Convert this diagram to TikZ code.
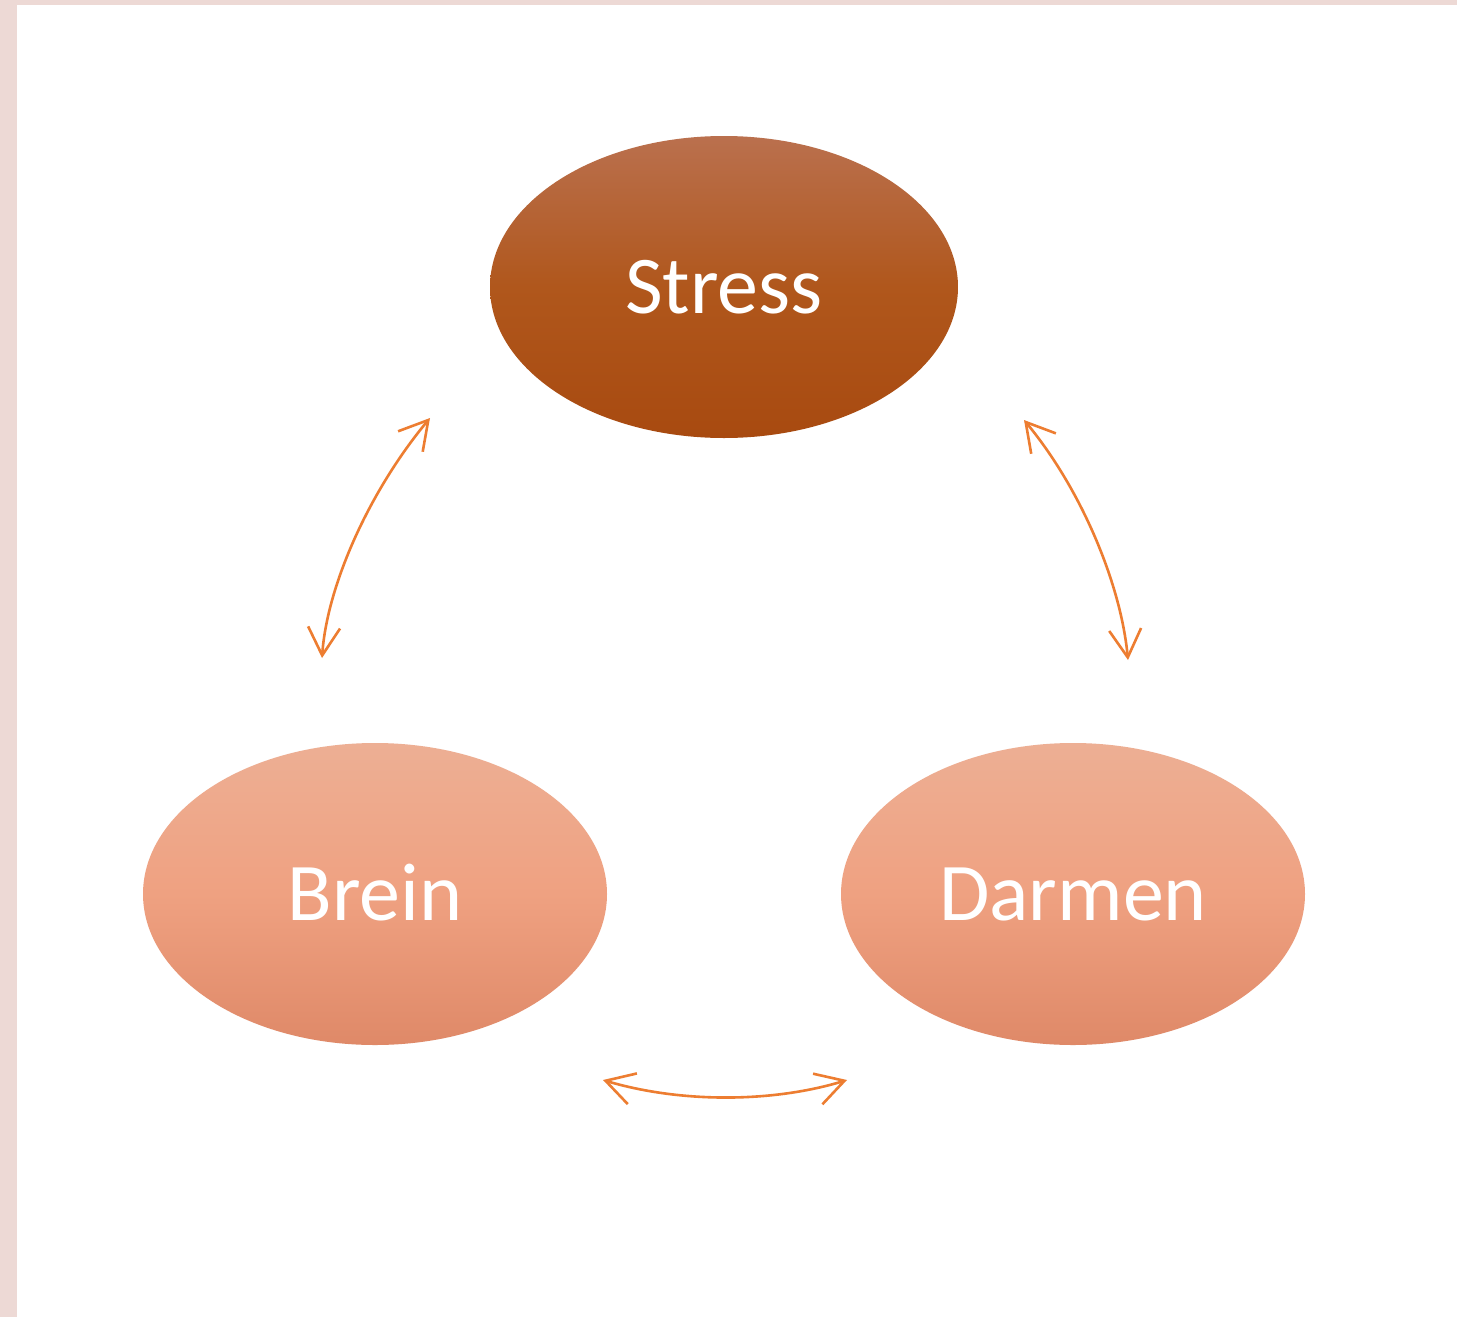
\documentclass[tikz,border=0pt]{standalone}
\usepackage{fontspec}
\setmainfont{Carlito}
\usetikzlibrary{shapes.geometric,arrows.meta}
\definecolor{pinkbg}{RGB}{237,217,213}
\definecolor{stresstop}{RGB}{186,112,78}
\definecolor{stressmid}{RGB}{176,87,28}
\definecolor{stressbot}{RGB}{168,74,16}
\definecolor{lighttop}{RGB}{237,175,148}
\definecolor{lightmid}{RGB}{239,161,129}
\definecolor{lightbot}{RGB}{223,137,104}
\definecolor{arroworange}{RGB}{237,125,49}
\tikzset{
  oval/.style={ellipse, draw=none, inner sep=0pt, minimum width=232pt, minimum height=151pt,
    text=white, font=\fontsize{41}{41}\selectfont, text height=26.4pt, text depth=0pt},
  darkoval/.style={oval, top color=stresstop, bottom color=stressbot, middle color=stressmid},
  lightoval/.style={oval, top color=lighttop, bottom color=lightbot, middle color=lightmid},
  link/.style={draw=arroworange, line width=1.3pt,
    {Straight Barb[length=14pt,width=16pt,line width=1.3pt]}-{Straight Barb[length=14pt,width=16pt,line width=1.3pt]}}
}
\begin{document}
\begin{tikzpicture}[x=0.5pt,y=-0.5pt]
\fill[pinkbg] (0,0) rectangle (1457,1317);
\fill[white] (17,5) rectangle (1457,1317);
\useasboundingbox (0,0) rectangle (1457,1317);
\node[darkoval, minimum width=234pt] (stress) at (724,287) {Stress};
\node[lightoval] (brein) at (375,894) {Brein};
\node[lightoval] (darmen) at (1073,894) {Darmen};
\coordinate (l1) at (322,658);
\coordinate (l2) at (430,418);
\coordinate (r1) at (1024,420);
\coordinate (r2) at (1128,660);
\coordinate (b1) at (603,1080);
\coordinate (b2) at (847,1080);
\draw[link] (l1) .. controls (327,585) and (370,490) .. (l2);
\draw[link] (r1) .. controls (1082,490) and (1121,585) .. (r2);
\draw[link] (b1) .. controls (680,1103) and (772,1103) .. (b2);
\end{tikzpicture}
\end{document}
